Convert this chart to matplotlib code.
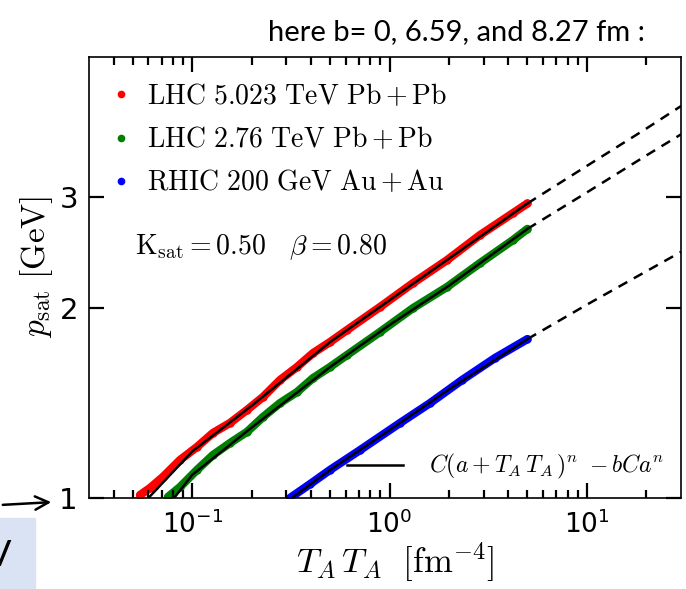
import matplotlib
matplotlib.use("Agg")
import matplotlib.pyplot as plt
from matplotlib.font_manager import FontProperties
from matplotlib.ticker import FixedLocator, FixedFormatter, NullLocator
from matplotlib.patches import Rectangle

# data (T_A T_A in fm^-4, p_sat in GeV)
red_x = [0.0544, 0.0611, 0.0711, 0.0868, 0.1058, 0.1275, 0.1554, 0.1896, 0.2285,
         0.2786, 0.3398, 0.4096, 0.4995, 0.609, 0.895, 1.316, 1.957, 2.875, 4.227, 5.0]
red_y = [1.011, 1.037, 1.080, 1.149, 1.205, 1.268, 1.315, 1.379, 1.446,
         1.538, 1.613, 1.697, 1.767, 1.846, 2.008, 2.191, 2.383, 2.611, 2.829, 2.93]

green_x = [0.0754, 0.0868, 0.1058, 0.1275, 0.1554, 0.1896, 0.2285, 0.2786, 0.3398,
           0.4096, 0.4995, 0.609, 0.895, 1.316, 1.957, 2.875, 4.227, 5.0]
green_y = [1.004, 1.041, 1.108, 1.170, 1.222, 1.273, 1.344, 1.414, 1.472,
           1.549, 1.613, 1.685, 1.833, 2.000, 2.160, 2.357, 2.564, 2.67]

blue_x = [0.313, 0.3956, 0.4995, 0.7087, 1.131, 1.605, 2.331, 3.426, 5.0]
blue_y = [1.0, 1.052, 1.108, 1.191, 1.315, 1.414, 1.538, 1.667, 1.786]

# fit C(a+TT)^n - bCa^n, solid over the data range
red_fit_x = [0.06, 0.1, 0.2, 0.5, 1.0, 2.0, 5.0]
red_fit_y = [1.0, 1.185, 1.40, 1.767, 2.058, 2.395, 2.93]
green_fit_x = [0.081, 0.1, 0.2, 0.5, 1.0, 2.0, 5.0]
green_fit_y = [1.0, 1.088, 1.293, 1.613, 1.88, 2.17, 2.67]
blue_fit_x = [0.32, 0.5, 1.0, 2.0, 5.0]
blue_fit_y = [1.0, 1.108, 1.281, 1.486, 1.786]

# dashed extrapolation of the fits
ext_x = [5.0, 10.0, 20.0, 30.0]
red_ext_y = [2.93, 3.36, 3.85, 4.18]
green_ext_y = [2.67, 3.05, 3.49, 3.77]
blue_ext_y = [1.786, 2.025, 2.287, 2.455]

labels = [r"$\mathrm{LHC\ 5.023\ TeV\ Pb+Pb}$",
          r"$\mathrm{LHC\ 2.76\ TeV\ Pb+Pb}$",
          r"$\mathrm{RHIC\ 200\ GeV\ Au+Au}$"]
colors = ["#ff0000", "#008000", "#0000ff"]

x_major = [0.1, 1.0, 10.0]
x_minor = [m * d for d in [0.01, 0.1, 1.0, 10.0] for m in range(2, 10)
           if 0.03 < m * d < 30]
y_major = [1, 2, 3]

W, H = 686, 589
fig = plt.figure(figsize=(W / 100, H / 100), dpi=100)
ax = fig.add_axes([89 / W, 1 - 498 / H, (681 - 89) / W, (498 - 57) / H])

series = [(red_x, red_y), (green_x, green_y), (blue_x, blue_y)]
fits = [(red_fit_x, red_fit_y), (green_fit_x, green_fit_y), (blue_fit_x, blue_fit_y)]
exts = [red_ext_y, green_ext_y, blue_ext_y]

dots = []
for (x, y), c, lab in zip(series, colors, labels):
    ax.plot(x, y, color=c, lw=6, solid_capstyle="round", zorder=2)
    d, = ax.plot(x, y, "o", color=c, ms=5, label=lab, zorder=2)
    dots.append(d)

fit_line = None
for (fx, fy), ey in zip(fits, exts):
    fit_line, = ax.plot(fx, fy, color="k", lw=1.8, zorder=3)
    ax.plot(ext_x, ey, color="k", lw=1.8, ls=(0, (4, 3)), zorder=3)

ax.set_xscale("log")
ax.set_yscale("log")
ax.set_xlim(0.03, 30)
ax.set_ylim(1, 5)

ax.yaxis.set_major_locator(FixedLocator(y_major))
ax.yaxis.set_major_formatter(FixedFormatter([str(v) for v in y_major]))
ax.yaxis.set_minor_locator(NullLocator())
ax.xaxis.set_major_locator(FixedLocator(x_major))
ax.xaxis.set_minor_locator(FixedLocator(x_minor))

# inward ticks on all four sides
ax.tick_params(which="both", direction="in", top=True, right=True,
               width=1.6, color="k", zorder=5)
ax.tick_params(which="major", length=11)
ax.tick_params(which="minor", length=6)
ax.tick_params(axis="y", labelsize=21, pad=8)
ax.tick_params(axis="x", labelsize=19, pad=9)
ax.set_axisbelow(False)
for s in ax.spines.values():
    s.set_linewidth(1.2)

cmfont = FontProperties(size=20, math_fontfamily="cm")
leg1 = ax.legend(handles=dots, loc="upper left", bbox_to_anchor=(0.0, 1.0),
                 frameon=False, prop=cmfont, handlelength=0.5, handletextpad=0.7,
                 labelspacing=0.55, markerscale=0.9, borderaxespad=0.5)
ax.add_artist(leg1)
ax.legend([fit_line], [r"$C(a+T_A\,T_A\,)^n\ -bCa^n$"], loc="lower right",
          prop=FontProperties(size=17, math_fontfamily="cm"), frameon=False,
          handlelength=2.4, handletextpad=1.1, borderaxespad=0.3)

ax.text(0.078, 0.57, r"$\mathrm{K_{sat}}=0.50\quad\beta=0.80$", transform=ax.transAxes,
        fontsize=20, math_fontfamily="cm", va="center")

ax.set_ylabel(r"$p_{\mathrm{sat}}\ [\mathrm{GeV}]$", fontsize=24, math_fontfamily="cm")
ax.set_xlabel(r"$T_A\,T_A\ \ [\mathrm{fm}^{-4}]$", fontsize=25, math_fontfamily="cm")
ax.yaxis.set_label_coords(-0.058, 0.525)
ax.xaxis.set_label_coords(0.517, -0.0975)

# slide decorations around the chart
fig.text(456 / W, 1 - 32 / H, "here b= 0, 6.59, and 8.27 fm :", fontsize=21,
         family="Lato", ha="center", va="center")
box = Rectangle((0, 0), 35 / W, (H - 518) / H, transform=fig.transFigure,
                color="#dae3f3", zorder=0)
fig.add_artist(box)
fig.text(11 / W, 1 - 556 / H, "V", fontsize=26, family="Lato", ha="right", va="center")
ax.annotate("", xy=(54 / W, 1 - 502 / H), xytext=(0, 1 - 505 / H),
            xycoords="figure fraction", textcoords="figure fraction",
            arrowprops=dict(arrowstyle="->", lw=1.8, color="k",
                            mutation_scale=24))

fig.savefig("out.png", dpi=100)
